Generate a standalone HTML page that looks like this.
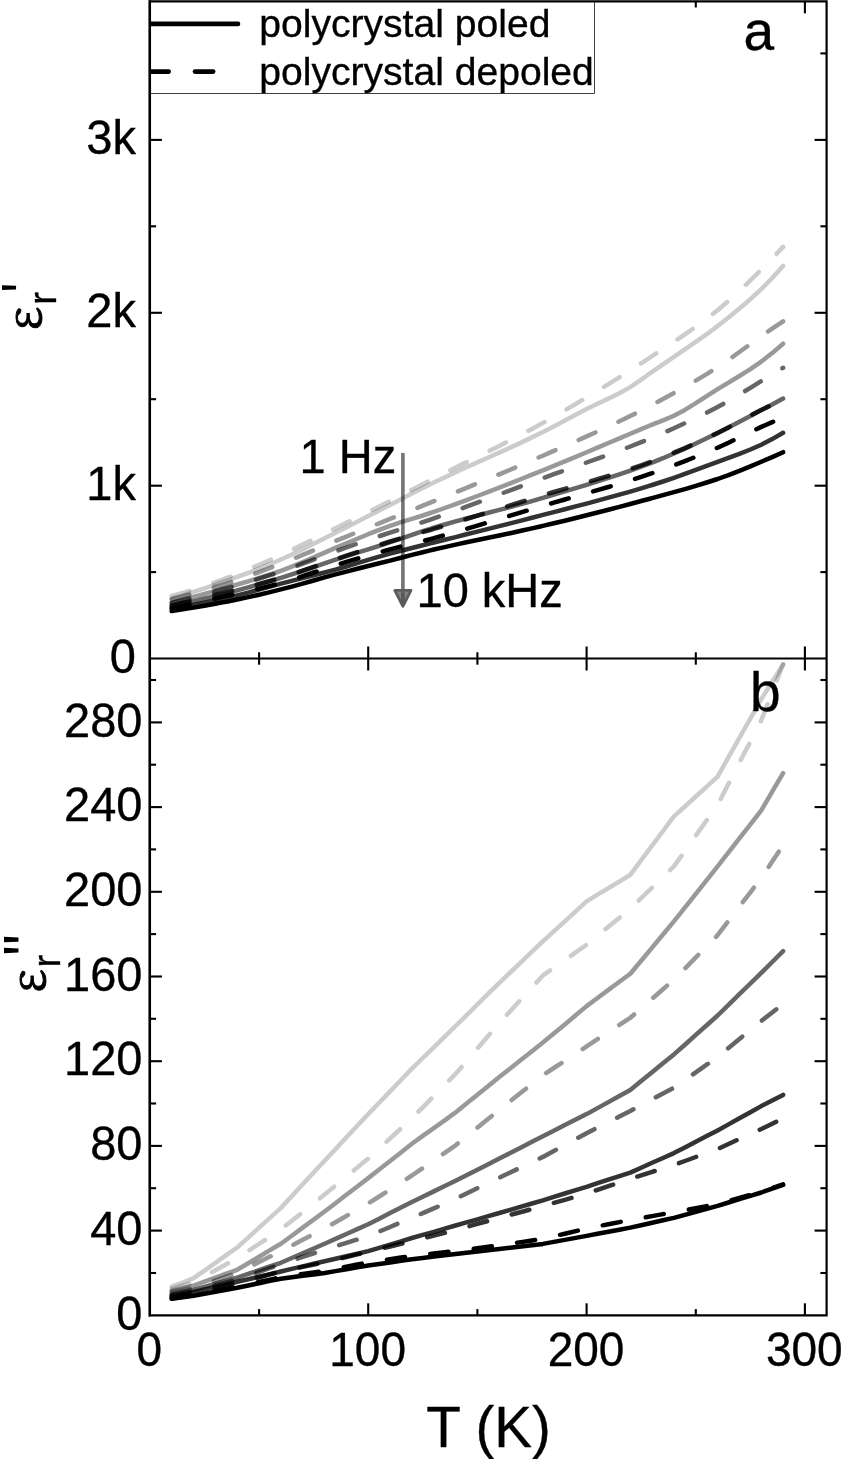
<!DOCTYPE html>
<html lang="en"><head><meta charset="utf-8"><title>Dielectric permittivity vs temperature</title>
<style>html,body{margin:0;padding:0;background:#fff}svg{display:block}text{font-family:"Liberation Sans",Arial,Helvetica,sans-serif;fill:#000;stroke:#000;stroke-width:0.35px;stroke-linejoin:round}</style>
</head><body>
<svg width="842" height="1459" viewBox="0 0 842 1459">
<rect x="0" y="0" width="842" height="1459" fill="#fff"/>
<!-- panel a curves -->
<g fill="none" stroke="#000" stroke-width="4.5" stroke-linecap="round" stroke-linejoin="round">
<path d="M171.7,598.6 L182.7,595.3 L193.6,591.9 L204.5,588.4 L215.4,584.7 L222.6,582.2 L226.3,580.9 L237.2,576.9 L248.2,572.8 L259.1,568.6 L270.0,564.2 L280.9,559.5 L291.8,554.6 L302.7,549.3 L313.7,543.8 L324.6,538.3 L335.5,532.7 L346.4,527.2 L357.3,521.7 L368.2,516.1 L379.2,510.5 L390.1,504.9 L401.0,499.3 L411.9,493.6 L422.8,488.0 L430.3,484.3 L433.8,482.6 L444.7,477.4 L455.6,472.3 L466.5,467.3 L477.4,462.4 L488.3,457.5 L499.3,452.6 L510.2,447.6 L521.1,442.6 L532.0,437.4 L540.3,433.3 L542.9,432.0 L553.8,426.4 L564.8,420.6 L575.7,414.8 L586.6,409.1 L597.5,403.8 L608.4,398.6 L619.4,393.2 L630.3,387.1 L641.2,379.7 L649.9,373.3 L652.1,371.8 L663.0,364.4 L673.9,356.9 L684.9,349.4 L695.8,341.9 L706.7,334.2 L717.6,326.1 L728.5,317.6 L739.4,308.6 L750.4,299.2 L761.3,289.1 L772.2,278.0 L783.1,265.9" stroke-opacity="0.2"/>
<path d="M171.7,596.0 L182.7,592.9 L193.6,589.5 L204.5,585.9 L215.4,582.2 L222.6,579.6 L226.3,578.2 L237.2,574.0 L248.2,569.5 L259.1,564.8 L270.0,560.0 L280.9,555.0 L291.8,549.9 L302.7,544.6 L313.7,539.2 L324.6,533.7 L335.5,528.2 L346.4,522.8 L357.3,517.5 L368.2,512.0 L379.2,506.6 L390.1,501.1 L401.0,495.5 L411.9,489.8 L422.8,484.2 L430.3,480.3 L433.8,478.6 L444.7,473.0 L455.6,467.6 L466.5,462.2 L477.4,456.8 L488.3,451.4 L499.3,445.9 L510.2,440.4 L521.1,434.7 L532.0,428.9 L540.3,424.3 L542.9,422.9 L553.8,416.7 L564.8,410.4 L575.7,404.0 L586.6,397.5 L597.5,390.9 L608.4,384.1 L619.4,377.3 L630.3,370.3 L641.2,363.3 L649.9,357.6 L652.1,356.2 L663.0,349.0 L673.9,341.8 L684.9,334.4 L695.8,326.8 L706.7,318.7 L717.6,310.2 L728.5,300.9 L739.4,290.9 L750.4,280.3 L761.3,269.6 L772.2,258.5 L783.1,246.9" stroke-opacity="0.2" stroke-dasharray="18.3 25.45" stroke-dashoffset="0"/>
<path d="M171.7,602.9 L182.7,600.0 L193.6,597.0 L204.5,594.0 L215.4,590.8 L222.6,588.7 L226.3,587.7 L237.2,584.5 L248.2,581.3 L259.1,578.0 L270.0,574.5 L280.9,570.8 L291.8,566.6 L302.7,562.1 L313.7,557.4 L324.6,552.6 L335.5,547.9 L346.4,543.4 L357.3,538.8 L368.2,534.2 L379.2,529.9 L390.1,525.8 L401.0,522.2 L411.9,518.8 L422.8,515.5 L430.3,513.0 L433.8,511.8 L444.7,508.0 L455.6,504.1 L466.5,500.1 L477.4,496.0 L488.3,491.8 L499.3,487.6 L510.2,483.3 L521.1,479.0 L532.0,474.6 L540.3,471.3 L542.9,470.3 L553.8,465.9 L564.8,461.4 L575.7,456.9 L586.6,452.3 L597.5,447.6 L608.4,443.0 L619.4,438.4 L630.3,433.7 L641.2,429.2 L649.9,425.5 L652.1,424.6 L663.0,420.4 L673.9,415.7 L684.9,409.9 L695.8,403.2 L706.7,396.2 L717.6,389.2 L728.5,382.6 L739.4,376.0 L750.4,369.1 L761.3,361.6 L772.2,353.1 L783.1,343.7" stroke-opacity="0.4"/>
<path d="M171.7,599.5 L182.7,596.6 L193.6,593.6 L204.5,590.4 L215.4,587.0 L222.6,584.8 L226.3,583.6 L237.2,579.9 L248.2,576.1 L259.1,572.1 L270.0,568.0 L280.9,563.9 L291.8,559.5 L302.7,554.9 L313.7,550.3 L324.6,545.6 L335.5,541.0 L346.4,536.6 L357.3,532.1 L368.2,527.7 L379.2,523.3 L390.1,518.9 L401.0,514.5 L411.9,510.1 L422.8,505.7 L430.3,502.6 L433.8,501.2 L444.7,496.7 L455.6,492.3 L466.5,487.8 L477.4,483.3 L488.3,478.8 L499.3,474.3 L510.2,469.7 L521.1,465.1 L532.0,460.4 L540.3,456.8 L542.9,455.7 L553.8,450.9 L564.8,446.1 L575.7,441.3 L586.6,436.4 L597.5,431.5 L608.4,426.4 L619.4,421.3 L630.3,416.0 L641.2,410.6 L649.9,406.0 L652.1,404.8 L663.0,399.0 L673.9,393.0 L684.9,386.9 L695.8,380.6 L706.7,374.1 L717.6,367.3 L728.5,359.9 L739.4,352.0 L750.4,344.0 L761.3,336.1 L772.2,328.6 L783.1,321.3" stroke-opacity="0.4" stroke-dasharray="18.3 25.45" stroke-dashoffset="0"/>
<path d="M171.7,606.4 L182.7,604.0 L193.6,601.4 L204.5,598.8 L215.4,596.1 L222.6,594.3 L226.3,593.3 L237.2,590.4 L248.2,587.4 L259.1,584.3 L270.0,581.1 L280.9,577.9 L291.8,574.4 L302.7,570.8 L313.7,567.1 L324.6,563.3 L335.5,559.7 L346.4,556.2 L357.3,552.7 L368.2,549.3 L379.2,545.8 L390.1,542.2 L401.0,538.6 L411.9,534.8 L422.8,531.1 L430.3,528.8 L433.8,527.7 L444.7,524.5 L455.6,521.4 L466.5,518.5 L477.4,515.6 L488.3,512.8 L499.3,509.9 L510.2,507.1 L521.1,504.1 L532.0,501.1 L540.3,498.7 L542.9,497.9 L553.8,494.7 L564.8,491.4 L575.7,488.2 L586.6,484.8 L597.5,481.4 L608.4,477.9 L619.4,474.3 L630.3,470.6 L641.2,466.7 L649.9,463.4 L652.1,462.6 L663.0,458.2 L673.9,453.5 L684.9,448.6 L695.8,443.5 L706.7,438.3 L717.6,433.0 L728.5,427.5 L739.4,421.8 L750.4,416.0 L761.3,410.1 L772.2,404.4 L783.1,398.6" stroke-opacity="0.6"/>
<path d="M171.7,602.9 L182.7,600.2 L193.6,597.4 L204.5,594.5 L215.4,591.5 L222.6,589.4 L226.3,588.4 L237.2,585.2 L248.2,582.0 L259.1,578.7 L270.0,575.2 L280.9,571.6 L291.8,567.8 L302.7,563.7 L313.7,559.6 L324.6,555.4 L335.5,551.4 L346.4,547.5 L357.3,543.7 L368.2,539.9 L379.2,536.2 L390.1,532.6 L401.0,529.0 L411.9,525.6 L422.8,522.1 L430.3,519.6 L433.8,518.4 L444.7,514.6 L455.6,510.7 L466.5,506.7 L477.4,502.6 L488.3,498.6 L499.3,494.4 L510.2,490.3 L521.1,486.2 L532.0,482.2 L540.3,479.1 L542.9,478.2 L553.8,474.2 L564.8,470.3 L575.7,466.4 L586.6,462.5 L597.5,458.6 L608.4,454.6 L619.4,450.6 L630.3,446.5 L641.2,442.2 L649.9,438.7 L652.1,437.7 L663.0,433.1 L673.9,428.2 L684.9,423.2 L695.8,418.1 L706.7,412.7 L717.6,407.0 L728.5,401.0 L739.4,394.5 L750.4,387.8 L761.3,381.1 L772.2,374.5 L783.1,367.8" stroke-opacity="0.6" stroke-dasharray="18.3 25.45" stroke-dashoffset="0"/>
<path d="M171.7,609.0 L182.7,607.1 L193.6,605.0 L204.5,602.8 L215.4,600.5 L222.6,598.9 L226.3,598.1 L237.2,595.4 L248.2,592.6 L259.1,589.6 L270.0,586.6 L280.9,583.7 L291.8,580.9 L302.7,578.1 L313.7,575.3 L324.6,572.5 L335.5,569.6 L346.4,566.5 L357.3,563.2 L368.2,559.9 L379.2,556.7 L390.1,553.6 L401.0,550.8 L411.9,548.0 L422.8,545.3 L430.3,543.4 L433.8,542.6 L444.7,539.8 L455.6,537.1 L466.5,534.3 L477.4,531.6 L488.3,528.9 L499.3,526.1 L510.2,523.4 L521.1,520.6 L532.0,517.8 L540.3,515.6 L542.9,514.9 L553.8,512.1 L564.8,509.3 L575.7,506.4 L586.6,503.6 L597.5,500.7 L608.4,497.7 L619.4,494.7 L630.3,491.6 L641.2,488.4 L649.9,485.7 L652.1,485.0 L663.0,481.5 L673.9,477.8 L684.9,473.9 L695.8,469.9 L706.7,465.9 L717.6,461.8 L728.5,457.8 L739.4,453.8 L750.4,449.5 L761.3,444.7 L772.2,439.1 L783.1,432.8" stroke-opacity="0.8"/>
<path d="M171.7,605.5 L182.7,603.0 L193.6,600.4 L204.5,597.7 L215.4,595.0 L222.6,593.2 L226.3,592.3 L237.2,589.6 L248.2,586.8 L259.1,584.0 L270.0,581.0 L280.9,577.9 L291.8,574.4 L302.7,570.7 L313.7,566.9 L324.6,563.1 L335.5,559.4 L346.4,555.7 L357.3,552.1 L368.2,548.5 L379.2,545.0 L390.1,541.5 L401.0,538.3 L411.9,535.2 L422.8,532.1 L430.3,530.0 L433.8,528.9 L444.7,525.7 L455.6,522.3 L466.5,519.0 L477.4,515.6 L488.3,512.2 L499.3,508.8 L510.2,505.4 L521.1,502.0 L532.0,498.6 L540.3,496.1 L542.9,495.3 L553.8,492.0 L564.8,488.8 L575.7,485.6 L586.6,482.4 L597.5,479.2 L608.4,475.9 L619.4,472.5 L630.3,469.0 L641.2,465.3 L649.9,462.2 L652.1,461.4 L663.0,457.2 L673.9,452.7 L684.9,448.1 L695.8,443.2 L706.7,438.1 L717.6,433.0 L728.5,427.4 L739.4,421.5 L750.4,415.6 L761.3,410.0 L772.2,404.7 L783.1,399.8" stroke-opacity="0.8" stroke-dasharray="18.3 25.45" stroke-dashoffset="0"/>
<path d="M171.7,611.1 L182.7,609.4 L193.6,607.6 L204.5,605.8 L215.4,603.8 L222.6,602.4 L226.3,601.7 L237.2,599.5 L248.2,597.1 L259.1,594.7 L270.0,592.1 L280.9,589.4 L291.8,586.6 L302.7,583.6 L313.7,580.5 L324.6,577.4 L335.5,574.4 L346.4,571.6 L357.3,568.8 L368.2,566.0 L379.2,563.3 L390.1,560.6 L401.0,557.8 L411.9,554.9 L422.8,552.2 L430.3,550.4 L433.8,549.5 L444.7,547.1 L455.6,544.6 L466.5,542.3 L477.4,540.0 L488.3,537.8 L499.3,535.5 L510.2,533.2 L521.1,530.8 L532.0,528.4 L540.3,526.5 L542.9,525.9 L553.8,523.3 L564.8,520.7 L575.7,518.0 L586.6,515.3 L597.5,512.5 L608.4,509.7 L619.4,506.9 L630.3,504.0 L641.2,501.0 L649.9,498.7 L652.1,498.1 L663.0,495.1 L673.9,492.1 L684.9,489.1 L695.8,485.9 L706.7,482.5 L717.6,479.0 L728.5,475.1 L739.4,470.8 L750.4,466.4 L761.3,461.8 L772.2,457.1 L783.1,452.2" stroke-opacity="1.0"/>
<path d="M171.7,608.1 L182.7,605.8 L193.6,603.4 L204.5,601.0 L215.4,598.5 L222.6,596.9 L226.3,596.0 L237.2,593.6 L248.2,591.1 L259.1,588.6 L270.0,585.9 L280.9,583.0 L291.8,579.8 L302.7,576.2 L313.7,572.5 L324.6,568.8 L335.5,565.2 L346.4,561.9 L357.3,558.6 L368.2,555.4 L379.2,552.3 L390.1,549.3 L401.0,546.5 L411.9,543.8 L422.8,541.1 L430.3,539.1 L433.8,538.2 L444.7,535.1 L455.6,532.0 L466.5,528.8 L477.4,525.6 L488.3,522.3 L499.3,519.0 L510.2,515.7 L521.1,512.4 L532.0,509.1 L540.3,506.6 L542.9,505.8 L553.8,502.7 L564.8,499.5 L575.7,496.4 L586.6,493.3 L597.5,490.2 L608.4,487.0 L619.4,483.7 L630.3,480.4 L641.2,476.9 L649.9,473.9 L652.1,473.2 L663.0,469.3 L673.9,465.3 L684.9,461.1 L695.8,456.8 L706.7,452.3 L717.6,447.7 L728.5,442.7 L739.4,437.4 L750.4,432.1 L761.3,426.9 L772.2,422.1 L783.1,417.4" stroke-opacity="1.0" stroke-dasharray="18.3 25.45" stroke-dashoffset="0"/>
</g>
<!-- panel b curves -->
<clipPath id="cb"><rect x="149.9" y="658.5" width="676.7" height="656.8"/></clipPath>
<g clip-path="url(#cb)">
<g fill="none" stroke="#000" stroke-width="4.5" stroke-linecap="round" stroke-linejoin="round">
<path d="M171.7,1286.7 L182.7,1282.5 L193.6,1278.2 L204.5,1270.6 L215.4,1262.9 L226.3,1255.2 L237.2,1247.5 L248.2,1237.6 L259.1,1227.7 L270.0,1217.8 L280.9,1207.9 L291.8,1196.1 L302.7,1184.3 L313.7,1172.5 L324.6,1160.7 L335.5,1149.1 L346.4,1137.4 L357.3,1125.8 L368.2,1114.1 L379.2,1102.8 L390.1,1091.4 L401.0,1080.0 L411.9,1068.6 L422.8,1058.0 L433.8,1047.3 L444.7,1036.7 L455.6,1026.0 L466.5,1015.3 L477.4,1004.5 L488.3,993.7 L499.3,982.9 L510.2,972.5 L521.1,962.1 L532.0,951.7 L542.9,941.3 L553.8,931.3 L564.8,921.3 L575.7,911.3 L586.6,901.3 L597.5,894.7 L608.4,888.1 L619.4,881.5 L630.3,874.9 L641.2,860.2 L652.1,845.6 L663.0,831.0 L673.9,816.4 L684.9,806.5 L695.8,796.5 L706.7,786.6 L717.6,776.6 L728.5,757.2 L739.4,737.9 L750.4,718.5 L761.3,699.1 L772.2,681.7 L783.1,664.4" stroke-opacity="0.2"/>
<path d="M171.7,1288.8 L182.7,1285.7 L193.6,1282.5 L204.5,1276.4 L215.4,1270.3 L226.3,1264.2 L237.2,1258.1 L248.2,1251.0 L259.1,1243.8 L270.0,1236.7 L280.9,1229.5 L291.8,1220.8 L302.7,1212.1 L313.7,1203.3 L324.6,1194.6 L335.5,1185.6 L346.4,1176.6 L357.3,1167.6 L368.2,1158.6 L379.2,1148.5 L390.1,1138.5 L401.0,1128.4 L411.9,1118.4 L422.8,1107.3 L433.8,1096.1 L444.7,1085.0 L455.6,1073.9 L466.5,1061.2 L477.4,1048.5 L488.3,1035.8 L499.3,1023.1 L510.2,1011.2 L521.1,999.3 L532.0,987.4 L542.9,975.4 L553.8,967.8 L564.8,960.1 L575.7,952.4 L586.6,944.7 L597.5,935.7 L608.4,926.7 L619.4,917.7 L630.3,908.7 L641.2,898.2 L652.1,887.6 L663.0,877.0 L673.9,866.4 L684.9,851.0 L695.8,835.7 L706.7,820.3 L717.6,805.0 L728.5,783.8 L739.4,762.6 L750.4,741.5 L761.3,720.3 L772.2,692.3 L783.1,664.4" stroke-opacity="0.2" stroke-dasharray="18.3 25.45" stroke-dashoffset="0"/>
<path d="M171.7,1290.9 L182.7,1288.3 L193.6,1285.7 L204.5,1281.7 L215.4,1277.7 L226.3,1273.7 L237.2,1269.8 L248.2,1263.3 L259.1,1256.8 L270.0,1250.2 L280.9,1243.7 L291.8,1235.7 L302.7,1227.6 L313.7,1219.6 L324.6,1211.5 L335.5,1203.2 L346.4,1194.8 L357.3,1186.5 L368.2,1178.1 L379.2,1169.5 L390.1,1160.9 L401.0,1152.4 L411.9,1143.8 L422.8,1135.9 L433.8,1128.1 L444.7,1120.3 L455.6,1112.4 L466.5,1103.6 L477.4,1094.8 L488.3,1085.9 L499.3,1077.1 L510.2,1068.5 L521.1,1059.8 L532.0,1051.2 L542.9,1042.6 L553.8,1033.5 L564.8,1024.4 L575.7,1015.3 L586.6,1006.1 L597.5,998.0 L608.4,989.9 L619.4,981.8 L630.3,973.7 L641.2,960.7 L652.1,947.6 L663.0,934.5 L673.9,921.4 L684.9,907.7 L695.8,893.9 L706.7,880.2 L717.6,866.4 L728.5,852.4 L739.4,838.3 L750.4,824.3 L761.3,810.3 L772.2,791.7 L783.1,773.2" stroke-opacity="0.4"/>
<path d="M171.7,1292.0 L182.7,1289.9 L193.6,1287.8 L204.5,1284.1 L215.4,1280.4 L226.3,1276.7 L237.2,1273.0 L248.2,1267.5 L259.1,1262.0 L270.0,1256.6 L280.9,1251.1 L291.8,1245.5 L302.7,1239.8 L313.7,1234.1 L324.6,1228.5 L335.5,1222.2 L346.4,1216.0 L357.3,1209.7 L368.2,1203.5 L379.2,1196.5 L390.1,1189.5 L401.0,1182.5 L411.9,1175.5 L422.8,1168.0 L433.8,1160.4 L444.7,1152.8 L455.6,1145.3 L466.5,1136.4 L477.4,1127.6 L488.3,1118.7 L499.3,1109.9 L510.2,1101.2 L521.1,1092.5 L532.0,1083.9 L542.9,1075.2 L553.8,1068.0 L564.8,1060.8 L575.7,1053.6 L586.6,1046.4 L597.5,1039.2 L608.4,1032.1 L619.4,1024.9 L630.3,1017.8 L641.2,1008.3 L652.1,998.7 L663.0,989.2 L673.9,979.7 L684.9,968.6 L695.8,957.4 L706.7,946.3 L717.6,935.2 L728.5,920.9 L739.4,906.6 L750.4,892.3 L761.3,878.0 L772.2,861.6 L783.1,845.2" stroke-opacity="0.4" stroke-dasharray="18.3 25.45" stroke-dashoffset="0"/>
<path d="M171.7,1294.1 L182.7,1292.0 L193.6,1289.9 L204.5,1286.8 L215.4,1283.7 L226.3,1280.7 L237.2,1277.6 L248.2,1273.9 L259.1,1270.2 L270.0,1266.5 L280.9,1262.8 L291.8,1258.0 L302.7,1253.3 L313.7,1248.5 L324.6,1243.7 L335.5,1238.9 L346.4,1234.0 L357.3,1229.1 L368.2,1224.2 L379.2,1218.7 L390.1,1213.1 L401.0,1207.6 L411.9,1202.0 L422.8,1196.7 L433.8,1191.4 L444.7,1186.1 L455.6,1180.8 L466.5,1175.3 L477.4,1169.7 L488.3,1164.2 L499.3,1158.6 L510.2,1153.0 L521.1,1147.4 L532.0,1141.8 L542.9,1136.2 L553.8,1130.7 L564.8,1125.1 L575.7,1119.6 L586.6,1114.1 L597.5,1108.1 L608.4,1102.1 L619.4,1096.0 L630.3,1090.0 L641.2,1081.1 L652.1,1072.2 L663.0,1063.3 L673.9,1054.4 L684.9,1044.7 L695.8,1034.9 L706.7,1025.2 L717.6,1015.5 L728.5,1004.8 L739.4,994.2 L750.4,983.5 L761.3,972.9 L772.2,962.0 L783.1,951.1" stroke-opacity="0.6"/>
<path d="M171.7,1295.2 L182.7,1293.1 L193.6,1290.9 L204.5,1288.1 L215.4,1285.3 L226.3,1282.5 L237.2,1279.7 L248.2,1275.8 L259.1,1271.9 L270.0,1268.0 L280.9,1264.1 L291.8,1260.5 L302.7,1256.9 L313.7,1253.3 L324.6,1249.7 L335.5,1246.3 L346.4,1242.9 L357.3,1239.5 L368.2,1236.1 L379.2,1231.6 L390.1,1227.0 L401.0,1222.4 L411.9,1217.9 L422.8,1213.1 L433.8,1208.4 L444.7,1203.6 L455.6,1198.8 L466.5,1193.5 L477.4,1188.2 L488.3,1183.0 L499.3,1177.7 L510.2,1172.5 L521.1,1167.3 L532.0,1162.1 L542.9,1156.9 L553.8,1151.0 L564.8,1145.1 L575.7,1139.1 L586.6,1133.2 L597.5,1127.6 L608.4,1122.1 L619.4,1116.5 L630.3,1111.0 L641.2,1105.1 L652.1,1099.3 L663.0,1093.5 L673.9,1087.7 L684.9,1080.0 L695.8,1072.3 L706.7,1064.6 L717.6,1057.0 L728.5,1048.0 L739.4,1039.0 L750.4,1030.0 L761.3,1021.0 L772.2,1012.5 L783.1,1004.0" stroke-opacity="0.6" stroke-dasharray="18.3 25.45" stroke-dashoffset="0"/>
<path d="M171.7,1296.2 L182.7,1294.1 L193.6,1292.0 L204.5,1289.5 L215.4,1286.9 L226.3,1284.4 L237.2,1281.8 L248.2,1279.2 L259.1,1276.7 L270.0,1274.1 L280.9,1271.5 L291.8,1268.9 L302.7,1266.4 L313.7,1263.8 L324.6,1261.3 L335.5,1258.8 L346.4,1256.2 L357.3,1253.7 L368.2,1251.1 L379.2,1247.9 L390.1,1244.6 L401.0,1241.3 L411.9,1238.0 L422.8,1234.9 L433.8,1231.8 L444.7,1228.6 L455.6,1225.5 L466.5,1222.4 L477.4,1219.3 L488.3,1216.1 L499.3,1213.0 L510.2,1209.8 L521.1,1206.7 L532.0,1203.5 L542.9,1200.3 L553.8,1196.9 L564.8,1193.5 L575.7,1190.2 L586.6,1186.8 L597.5,1183.2 L608.4,1179.7 L619.4,1176.1 L630.3,1172.6 L641.2,1167.7 L652.1,1162.8 L663.0,1158.0 L673.9,1153.1 L684.9,1147.4 L695.8,1141.8 L706.7,1136.1 L717.6,1130.4 L728.5,1124.4 L739.4,1118.3 L750.4,1112.2 L761.3,1106.1 L772.2,1100.5 L783.1,1094.9" stroke-opacity="0.8"/>
<path d="M171.7,1297.3 L182.7,1295.2 L193.6,1293.1 L204.5,1290.5 L215.4,1288.0 L226.3,1285.4 L237.2,1282.9 L248.2,1280.0 L259.1,1277.2 L270.0,1274.3 L280.9,1271.5 L291.8,1269.2 L302.7,1266.9 L313.7,1264.6 L324.6,1262.4 L335.5,1259.7 L346.4,1257.1 L357.3,1254.4 L368.2,1251.8 L379.2,1249.1 L390.1,1246.5 L401.0,1243.8 L411.9,1241.2 L422.8,1238.4 L433.8,1235.6 L444.7,1232.8 L455.6,1230.0 L466.5,1226.9 L477.4,1223.9 L488.3,1220.9 L499.3,1217.9 L510.2,1214.9 L521.1,1212.0 L532.0,1209.0 L542.9,1206.0 L553.8,1202.9 L564.8,1199.8 L575.7,1196.7 L586.6,1193.5 L597.5,1189.8 L608.4,1186.1 L619.4,1182.4 L630.3,1178.7 L641.2,1175.3 L652.1,1171.8 L663.0,1168.4 L673.9,1165.0 L684.9,1161.0 L695.8,1157.0 L706.7,1153.0 L717.6,1149.1 L728.5,1144.0 L739.4,1139.0 L750.4,1134.0 L761.3,1129.0 L772.2,1123.7 L783.1,1118.4" stroke-opacity="0.8" stroke-dasharray="18.3 25.45" stroke-dashoffset="0"/>
<path d="M171.7,1298.8 L182.7,1297.3 L193.6,1295.8 L204.5,1293.8 L215.4,1291.8 L226.3,1289.8 L237.2,1287.8 L248.2,1285.5 L259.1,1283.2 L270.0,1280.9 L280.9,1278.7 L291.8,1277.2 L302.7,1275.8 L313.7,1274.4 L324.6,1273.0 L335.5,1271.1 L346.4,1269.2 L357.3,1267.4 L368.2,1265.5 L379.2,1264.0 L390.1,1262.4 L401.0,1260.8 L411.9,1259.2 L422.8,1257.9 L433.8,1256.5 L444.7,1255.2 L455.6,1253.9 L466.5,1252.7 L477.4,1251.5 L488.3,1250.2 L499.3,1249.0 L510.2,1247.8 L521.1,1246.5 L532.0,1245.2 L542.9,1243.9 L553.8,1241.9 L564.8,1239.9 L575.7,1237.9 L586.6,1235.9 L597.5,1233.8 L608.4,1231.8 L619.4,1229.7 L630.3,1227.6 L641.2,1225.2 L652.1,1222.8 L663.0,1220.3 L673.9,1217.9 L684.9,1214.9 L695.8,1211.9 L706.7,1208.8 L717.6,1205.8 L728.5,1202.5 L739.4,1199.2 L750.4,1195.8 L761.3,1192.5 L772.2,1188.7 L783.1,1184.9" stroke-opacity="1.0"/>
<path d="M171.7,1298.4 L182.7,1296.8 L193.6,1295.2 L204.5,1293.1 L215.4,1290.9 L226.3,1288.8 L237.2,1286.7 L248.2,1284.3 L259.1,1281.9 L270.0,1279.6 L280.9,1277.2 L291.8,1275.6 L302.7,1274.0 L313.7,1272.4 L324.6,1270.8 L335.5,1268.7 L346.4,1266.6 L357.3,1264.5 L368.2,1262.4 L379.2,1260.8 L390.1,1259.2 L401.0,1257.6 L411.9,1256.0 L422.8,1254.7 L433.8,1253.5 L444.7,1252.2 L455.6,1250.9 L466.5,1249.6 L477.4,1248.2 L488.3,1246.8 L499.3,1245.4 L510.2,1243.8 L521.1,1242.1 L532.0,1240.5 L542.9,1238.9 L553.8,1236.3 L564.8,1233.7 L575.7,1231.1 L586.6,1228.5 L597.5,1226.4 L608.4,1224.2 L619.4,1222.1 L630.3,1220.0 L641.2,1218.1 L652.1,1216.1 L663.0,1214.1 L673.9,1212.2 L684.9,1210.2 L695.8,1208.2 L706.7,1206.1 L717.6,1204.1 L728.5,1201.1 L739.4,1198.0 L750.4,1194.9 L761.3,1191.8 L772.2,1188.1 L783.1,1184.4" stroke-opacity="1.0" stroke-dasharray="18.3 25.45" stroke-dashoffset="0"/>
</g>
</g>
<line x1="402.9" y1="453" x2="402.9" y2="590" stroke="#000" stroke-opacity="0.55" stroke-width="3.6"/>
<path d="M394.8,590.4 L411,590.4 L402.9,606.3 Z" fill="#828282" stroke="#5c5c5c" stroke-width="2.8" stroke-linejoin="round"/>
<line x1="402.9" y1="592.3" x2="402.9" y2="604.5" stroke="#585858" stroke-width="3.6"/>
<g stroke="#000" stroke-width="2.1">
<line x1="149.9" y1="572.1" x2="156.1" y2="572.1"/>
<line x1="820.4" y1="572.1" x2="826.6" y2="572.1"/>
<line x1="149.9" y1="485.7" x2="161.9" y2="485.7"/>
<line x1="814.6" y1="485.7" x2="826.6" y2="485.7"/>
<line x1="149.9" y1="399.2" x2="156.1" y2="399.2"/>
<line x1="820.4" y1="399.2" x2="826.6" y2="399.2"/>
<line x1="149.9" y1="312.8" x2="161.9" y2="312.8"/>
<line x1="814.6" y1="312.8" x2="826.6" y2="312.8"/>
<line x1="149.9" y1="226.3" x2="156.1" y2="226.3"/>
<line x1="820.4" y1="226.3" x2="826.6" y2="226.3"/>
<line x1="149.9" y1="139.9" x2="161.9" y2="139.9"/>
<line x1="814.6" y1="139.9" x2="826.6" y2="139.9"/>
<line x1="149.9" y1="53.4" x2="156.1" y2="53.4"/>
<line x1="820.4" y1="53.4" x2="826.6" y2="53.4"/>
<line x1="149.9" y1="1273.0" x2="156.1" y2="1273.0"/>
<line x1="820.4" y1="1273.0" x2="826.6" y2="1273.0"/>
<line x1="149.9" y1="1230.6" x2="161.9" y2="1230.6"/>
<line x1="814.6" y1="1230.6" x2="826.6" y2="1230.6"/>
<line x1="149.9" y1="1188.2" x2="156.1" y2="1188.2"/>
<line x1="820.4" y1="1188.2" x2="826.6" y2="1188.2"/>
<line x1="149.9" y1="1145.9" x2="161.9" y2="1145.9"/>
<line x1="814.6" y1="1145.9" x2="826.6" y2="1145.9"/>
<line x1="149.9" y1="1103.5" x2="156.1" y2="1103.5"/>
<line x1="820.4" y1="1103.5" x2="826.6" y2="1103.5"/>
<line x1="149.9" y1="1061.2" x2="161.9" y2="1061.2"/>
<line x1="814.6" y1="1061.2" x2="826.6" y2="1061.2"/>
<line x1="149.9" y1="1018.8" x2="156.1" y2="1018.8"/>
<line x1="820.4" y1="1018.8" x2="826.6" y2="1018.8"/>
<line x1="149.9" y1="976.5" x2="161.9" y2="976.5"/>
<line x1="814.6" y1="976.5" x2="826.6" y2="976.5"/>
<line x1="149.9" y1="934.1" x2="156.1" y2="934.1"/>
<line x1="820.4" y1="934.1" x2="826.6" y2="934.1"/>
<line x1="149.9" y1="891.8" x2="161.9" y2="891.8"/>
<line x1="814.6" y1="891.8" x2="826.6" y2="891.8"/>
<line x1="149.9" y1="849.4" x2="156.1" y2="849.4"/>
<line x1="820.4" y1="849.4" x2="826.6" y2="849.4"/>
<line x1="149.9" y1="807.1" x2="161.9" y2="807.1"/>
<line x1="814.6" y1="807.1" x2="826.6" y2="807.1"/>
<line x1="149.9" y1="764.7" x2="156.1" y2="764.7"/>
<line x1="820.4" y1="764.7" x2="826.6" y2="764.7"/>
<line x1="149.9" y1="722.4" x2="161.9" y2="722.4"/>
<line x1="814.6" y1="722.4" x2="826.6" y2="722.4"/>
<line x1="149.9" y1="680.0" x2="156.1" y2="680.0"/>
<line x1="820.4" y1="680.0" x2="826.6" y2="680.0"/>
<line x1="259.1" y1="1.3" x2="259.1" y2="7.5"/>
<line x1="259.1" y1="652.3" x2="259.1" y2="664.7"/>
<line x1="259.1" y1="1309.1" x2="259.1" y2="1315.3"/>
<line x1="368.2" y1="1.3" x2="368.2" y2="13.3"/>
<line x1="368.2" y1="646.5" x2="368.2" y2="670.5"/>
<line x1="368.2" y1="1303.3" x2="368.2" y2="1315.3"/>
<line x1="477.4" y1="1.3" x2="477.4" y2="7.5"/>
<line x1="477.4" y1="652.3" x2="477.4" y2="664.7"/>
<line x1="477.4" y1="1309.1" x2="477.4" y2="1315.3"/>
<line x1="586.6" y1="1.3" x2="586.6" y2="13.3"/>
<line x1="586.6" y1="646.5" x2="586.6" y2="670.5"/>
<line x1="586.6" y1="1303.3" x2="586.6" y2="1315.3"/>
<line x1="695.8" y1="1.3" x2="695.8" y2="7.5"/>
<line x1="695.8" y1="652.3" x2="695.8" y2="664.7"/>
<line x1="695.8" y1="1309.1" x2="695.8" y2="1315.3"/>
<line x1="804.9" y1="1.3" x2="804.9" y2="13.3"/>
<line x1="804.9" y1="646.5" x2="804.9" y2="670.5"/>
<line x1="804.9" y1="1303.3" x2="804.9" y2="1315.3"/>
</g>
<g>
<path d="M149.9,1.3 L594.5,1.3 L594.5,93.5 L149.9,93.5 Z" fill="#fff" stroke="none"/>
<path d="M149.9,93.5 L594.5,93.5 L594.5,1.3" fill="none" stroke="#2a2a2a" stroke-width="0.9"/>
<clipPath id="cl"><rect x="149.9" y="0" width="500" height="100"/></clipPath>
<g clip-path="url(#cl)" stroke="#000" stroke-width="4.6" stroke-linecap="round">
<line x1="149.9" y1="23.9" x2="238" y2="23.9"/>
<line x1="149.9" y1="71.6" x2="168.7" y2="71.6"/>
<line x1="195" y1="71.6" x2="213.2" y2="71.6"/>
</g>
<text x="259.3" y="37.2" font-size="39.1">polycrystal poled</text>
<text x="259.3" y="85.4" font-size="39.1">polycrystal depoled</text>
</g>
<g stroke="#000" fill="none" stroke-width="2.2" stroke-linecap="butt">
<path d="M149.9,1.3 L826.6,1.3 L826.6,1315.3 L149.9,1315.3 Z"/>
<line x1="149.9" y1="658.5" x2="826.6" y2="658.5"/>
<line x1="149.8" y1="0.2" x2="149.8" y2="1316.4" stroke-width="2.5"/>
</g>
<text transform="translate(136.0,154.2) scale(1.0,1.01)" font-size="47" text-anchor="end">3k</text>
<text transform="translate(136.0,327.1) scale(1.0,1.01)" font-size="47" text-anchor="end">2k</text>
<text transform="translate(136.0,500.0) scale(1.0,1.01)" font-size="47" text-anchor="end">1k</text>
<text transform="translate(136.0,672.9) scale(1.0,1.025)" font-size="47" text-anchor="end">0</text>
<text transform="translate(142.5,1329.5) scale(1.0,1.025)" font-size="47" text-anchor="end">0</text>
<text transform="translate(142.5,1244.8) scale(1.0,1.025)" font-size="47" text-anchor="end">40</text>
<text transform="translate(142.5,1160.1) scale(1.0,1.025)" font-size="47" text-anchor="end">80</text>
<text transform="translate(142.5,1075.4) scale(1.0,1.025)" font-size="47" text-anchor="end">120</text>
<text transform="translate(142.5,990.7) scale(1.0,1.025)" font-size="47" text-anchor="end">160</text>
<text transform="translate(142.5,906.0) scale(1.0,1.025)" font-size="47" text-anchor="end">200</text>
<text transform="translate(142.5,821.3) scale(1.0,1.025)" font-size="47" text-anchor="end">240</text>
<text transform="translate(142.5,736.6) scale(1.0,1.025)" font-size="47" text-anchor="end">280</text>
<text transform="translate(149.3,1365.8) scale(1.0,1.025)" font-size="46" text-anchor="middle">0</text>
<text transform="translate(367.6,1365.8) scale(1.0,1.025)" font-size="46" text-anchor="middle">100</text>
<text transform="translate(586.0,1365.8) scale(1.0,1.025)" font-size="46" text-anchor="middle">200</text>
<text transform="translate(804.3,1365.8) scale(1.0,1.025)" font-size="46" text-anchor="middle">300</text>
<text x="743.5" y="50.0" font-size="55">a</text>
<text x="750.0" y="711.0" font-size="55">b</text>
<text transform="translate(488.6,1447.0) scale(1.0,1.01)" font-size="56.6" text-anchor="middle">T (K)</text>
<text transform="translate(299.5,472.5) scale(1.0,1.03)" font-size="47">1 Hz</text>
<text transform="translate(416.5,606.6) scale(1.0,1.03)" font-size="47">10 kHz</text>
<g transform="rotate(-90)"><text x="-329.9" y="40.6" style="font-family:'Noto Serif CJK SC','Liberation Serif',serif;font-size:47.5px;stroke-width:1px">ε</text><text x="-304.8" y="56.2" font-size="38">r</text><text transform="translate(-292.7,46.6) scale(1,1.22)" font-size="53" style="stroke-width:0">'</text></g>
<g transform="rotate(-90)"><text x="-992.4" y="44.6" style="font-family:'Noto Serif CJK SC','Liberation Serif',serif;font-size:47.5px;stroke-width:1px">ε</text><text x="-967.5" y="59.9" font-size="38">r</text><text transform="translate(-955.7,49.9) scale(1,1.09)" font-size="60.5" style="stroke-width:0">"</text></g>
</svg>
</body></html>
